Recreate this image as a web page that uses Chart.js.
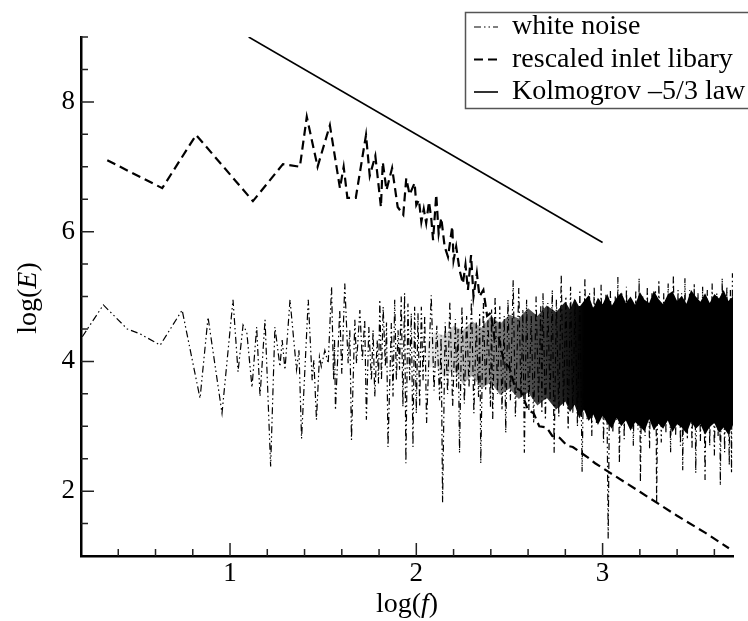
<!DOCTYPE html>
<html>
<head>
<meta charset="utf-8">
<script src="https://cdn.jsdelivr.net/npm/chart.js@4.4.0/dist/chart.umd.min.js"></script>
<style>
  body { margin: 0; background: #fff; }
  canvas { display: block; }
</style>
</head>
<body>
<canvas id="spectrumChart" width="748" height="621"></canvas>
<script>
// ─── DATA (log10 frequency vs log10 energy) ───
const noiseLogF = [
  0.207, 0.320, 0.448, 0.520, 0.625, 0.743, 0.839, 0.882, 0.957, 1.016,
  1.043, 1.070, 1.090, 1.118, 1.143, 1.161, 1.188, 1.218, 1.241, 1.268,
  1.280, 1.295, 1.322, 1.357, 1.370, 1.384, 1.420, 1.441, 1.450, 1.464,
  1.480, 1.490, 1.509, 1.527, 1.545, 1.556, 1.561, 1.566, 1.589, 1.600,
  1.616, 1.634, 1.643, 1.652, 1.670, 1.679, 1.697, 1.710, 1.723, 1.732,
  1.745, 1.759, 1.768, 1.777, 1.790, 1.797, 1.804, 1.813, 1.822, 1.834,
  1.840, 1.848, 1.866, 1.875, 1.884, 1.893, 1.902, 1.910, 1.919, 1.928,
  1.937, 1.944, 1.955, 1.964, 1.973, 1.982, 1.991, 2.000, 2.009, 2.018,
  2.027, 2.036,
  2.045, 2.055, 2.080, 2.095, 2.110, 2.125, 2.133, 2.141, 2.155, 2.168,
  2.180, 2.195, 2.210, 2.216, 2.224, 2.232, 2.245, 2.258, 2.270, 2.283,
  2.296, 2.309, 2.322, 2.334, 2.340, 2.346, 2.360, 2.372, 2.385, 2.398,
  2.404, 2.410, 2.423, 2.436, 2.448, 2.460, 2.472, 2.480, 2.492, 2.505,
  2.520, 2.532, 2.550, 2.562, 2.572, 2.580, 2.592, 2.604, 2.617, 2.630,
  2.643, 2.656, 2.668, 2.674, 2.680, 2.693, 2.706, 2.718, 2.730, 2.740,
  2.752, 2.765, 2.778, 2.790, 2.803, 2.815, 2.828, 2.840, 2.852, 2.865,
  2.878, 2.890, 2.905, 2.917, 2.930, 2.942, 2.955, 2.967, 2.980, 2.985,
  2.992, 3.005, 3.018, 3.030, 3.042, 3.055, 3.068, 3.074, 3.082, 3.090,
  3.103, 3.116, 3.128, 3.140, 3.153, 3.165, 3.178, 3.190, 3.196, 3.203,
  3.215, 3.228, 3.240, 3.252, 3.265, 3.278, 3.284, 3.290, 3.302, 3.315,
  3.328, 3.340, 3.352, 3.365, 3.380, 3.392, 3.405, 3.418, 3.424, 3.430,
  3.442, 3.455, 3.467, 3.480, 3.492, 3.500, 3.512, 3.525, 3.537, 3.550,
  3.562, 3.575, 3.588, 3.600, 3.613, 3.620, 3.626, 3.632, 3.642, 3.655,
  3.667, 3.680, 3.686, 3.692, 3.697
];
const noiseLogE = [
  4.38, 4.87, 4.50, 4.42, 4.25, 4.79, 3.43, 4.68, 3.20, 4.95,
  3.84, 4.56, 4.45, 3.60, 4.53, 3.46, 4.64, 2.38, 4.53, 3.92,
  4.33, 3.87, 4.95, 3.87, 4.17, 2.81, 4.95, 3.71, 4.02, 3.10,
  4.07, 3.92, 4.17, 3.97, 5.15, 3.71, 4.33, 3.25, 4.79, 3.81,
  5.20, 3.97, 4.48, 2.79, 4.64, 3.97, 4.79, 4.02, 4.64, 3.10,
  4.53, 3.71, 4.48, 3.46, 4.33, 3.66, 4.95, 3.71, 4.84, 3.92,
  4.60, 2.68, 4.59, 3.46, 4.95, 3.71, 4.48, 3.87, 5.00, 3.30,
  5.05, 2.43, 4.89, 3.71, 4.74, 2.68, 4.84, 3.20, 4.74, 3.30,
  4.84, 3.71,
  4.70, 3.05, 5.02, 3.55, 4.55, 3.40, 4.40, 1.83, 4.60, 3.50,
  4.92, 3.30, 4.65, 3.60, 4.50, 2.59, 4.85, 3.35, 4.70, 3.60,
  4.95, 3.20, 4.60, 3.45, 4.75, 2.43, 4.90, 3.55, 4.65, 3.30,
  4.80, 3.10, 5.00, 3.50, 4.85, 3.25, 4.70, 2.90, 4.95, 3.40,
  5.25, 3.15, 5.13, 3.45, 4.80, 2.59, 4.95, 3.25, 4.70, 3.05,
  5.00, 3.35, 4.85, 3.20, 5.05, 3.10, 4.90, 3.40, 5.10, 2.59,
  4.95, 3.15, 5.33, 3.30, 5.00, 2.95, 5.15, 3.20, 4.95, 3.00,
  5.10, 2.30, 5.28, 3.10, 5.05, 2.85, 5.15, 3.05, 4.95, 3.20,
  5.18, 2.75, 5.05, 1.27, 5.10, 2.90, 5.00, 3.10, 5.30, 2.43,
  5.05, 2.80, 5.15, 3.00, 4.95, 2.70, 5.10, 2.95, 5.28, 2.14,
  5.00, 2.85, 5.15, 2.65, 5.05, 2.95, 5.10, 1.81, 5.25, 2.75,
  5.05, 2.90, 5.20, 2.60, 5.33, 2.85, 5.10, 2.70, 5.05, 2.32,
  5.28, 2.80, 5.10, 2.65, 5.20, 2.28, 5.05, 2.75, 5.15, 2.17,
  5.10, 2.70, 5.20, 2.55, 5.05, 2.85, 4.90, 2.09, 5.28, 2.60,
  5.15, 2.40, 5.10, 2.28, 5.36
];

const inletLogF = [
  0.341, 0.636, 0.818, 1.123, 1.284, 1.375, 1.412, 1.470, 1.536, 1.590,
  1.610, 1.630, 1.675, 1.730, 1.750, 1.780, 1.810, 1.820, 1.840, 1.870,
  1.900, 1.930, 1.946, 1.964, 1.991, 2.000, 2.014, 2.027, 2.040, 2.053,
  2.068, 2.080, 2.090, 2.107, 2.120, 2.134, 2.152, 2.170, 2.193, 2.200,
  2.214, 2.232, 2.250, 2.264, 2.277, 2.294, 2.307, 2.325, 2.339, 2.360,
  2.380, 2.400, 2.420, 2.440, 2.470, 2.500, 2.530, 2.560, 2.600, 2.630,
  2.660, 2.700, 2.730, 2.770, 2.810, 2.840, 2.880, 2.920, 2.960, 3.030,
  3.200, 3.400, 3.550, 3.678
];
const inletLogE = [
  7.10, 6.67, 7.49, 6.47, 7.04, 7.00, 7.77, 7.00, 7.64, 6.67,
  7.00, 6.52, 6.52, 7.49, 6.86, 7.17, 6.38, 7.07, 6.64, 6.98,
  6.38, 6.26, 6.82, 6.57, 6.75, 6.41, 6.49, 6.15, 6.35, 6.13,
  6.46, 6.21, 5.87, 6.57, 5.97, 6.21, 5.77, 5.61, 6.08, 5.56,
  5.77, 5.41, 5.20, 5.49, 5.10, 5.64, 5.00, 5.36, 5.00, 5.10,
  4.70, 4.75, 4.35, 4.40, 4.00, 3.90, 3.60, 3.55, 3.25, 3.20,
  3.00, 2.98, 2.85, 2.82, 2.70, 2.68, 2.60, 2.52, 2.43, 2.30,
  1.99, 1.62, 1.36, 1.12
];

const kolmoLogF = [1.1, 3.0];
const kolmoLogE = [9.0, 5.833];

// ragged envelope of the saturated part of the white-noise band
const bandLogF = [
  2.05, 2.10, 2.15, 2.20, 2.25, 2.30, 2.35, 2.40, 2.45,
  2.50, 2.55, 2.60, 2.65, 2.70, 2.75, 2.80,
  2.825, 2.850, 2.875, 2.900, 2.925, 2.950, 2.975, 3.000, 3.025, 3.050,
  3.075, 3.100, 3.125, 3.150, 3.175, 3.200, 3.225, 3.250, 3.275, 3.300,
  3.325, 3.350, 3.375, 3.400, 3.425, 3.450, 3.475, 3.500, 3.525, 3.550,
  3.575, 3.600, 3.625, 3.650, 3.675, 3.700
];
const bandTop = [
  4.30, 4.45, 4.40, 4.55, 4.48, 4.62, 4.52, 4.70, 4.58,
  4.72, 4.66, 4.82, 4.70, 4.86, 4.76, 4.92,
  4.80, 4.97, 4.84, 4.93, 5.02, 4.82, 4.98, 4.88, 5.04, 4.86,
  4.98, 5.06, 4.90, 5.00, 4.87, 5.07, 4.95, 4.90, 5.09, 4.96,
  4.88, 5.03, 5.08, 4.93, 5.01, 4.89, 5.10, 5.00, 4.92, 5.05,
  4.90, 5.04, 4.97, 5.10, 4.93, 5.00
];
const bandBottom = [
  3.85, 3.95, 3.75, 3.88, 3.65, 3.78, 3.58, 3.68, 3.48,
  3.58, 3.42, 3.52, 3.32, 3.44, 3.26, 3.38,
  3.22, 3.33, 3.12, 3.26, 3.08, 3.18, 3.02, 3.16, 3.05, 2.96,
  3.13, 3.00, 3.09, 2.93, 3.06, 3.00, 2.92, 3.11, 2.94, 3.04,
  2.96, 3.09, 2.91, 3.03, 2.98, 2.89, 3.07, 2.96, 3.03, 2.87,
  2.99, 3.05, 2.90, 2.98, 2.87, 3.02
];

const xTickValues = [1, 2, 3];
const yTickValues = [2, 4, 6, 8];
const xMinorTicks = [0.4, 0.6, 0.8, 1.2, 1.4, 1.6, 1.8, 2.2, 2.4, 2.6, 2.8, 3.2, 3.4, 3.6];
const yMinorTicks = [1.5, 2.5, 3, 3.5, 4.5, 5, 5.5, 6.5, 7, 7.5, 8.5, 9];

const legendLabels = ['white noise', 'rescaled inlet libary', 'Kolmogrov \u20135/3 law'];

// ─── STYLE ───
const FONT = '"Liberation Serif", "Times New Roman", serif';
const noiseDash = [7, 3, 1.5, 3, 1.5, 3];
const inletDash = [9, 5];

function pairs(xs, ys) {
    return xs.map((v, i) => ({ x: v, y: ys[i] }));
}

// ─── TICKS, TITLES AND LEGEND ───
function drawMixed(ctx, parts, cx, y) {
    const fonts = parts.map(p => (p[1] ? 'italic ' : '') + '28px ' + FONT);
    const widths = parts.map((p, i) => { ctx.font = fonts[i]; return ctx.measureText(p[0]).width; });
    let x = cx - widths.reduce((a, b) => a + b, 0) / 2;
    parts.forEach((p, i) => {
        ctx.font = fonts[i];
        ctx.fillText(p[0], x, y);
        x += widths[i];
    });
}

const decorPlugin = {
    id: 'decor',
    afterDraw(chart) {
        const { ctx, chartArea: a, scales: { x, y } } = chart;
        ctx.save();

        // inward ticks
        ctx.strokeStyle = '#222';
        ctx.lineWidth = 1.5;
        ctx.beginPath();
        xTickValues.forEach(v => { const p = x.getPixelForValue(v); ctx.moveTo(p, a.bottom); ctx.lineTo(p, a.bottom - 13); });
        xMinorTicks.forEach(v => { const p = x.getPixelForValue(v); ctx.moveTo(p, a.bottom); ctx.lineTo(p, a.bottom - 7); });
        yTickValues.forEach(v => { const p = y.getPixelForValue(v); ctx.moveTo(a.left, p); ctx.lineTo(a.left + 13, p); });
        yMinorTicks.forEach(v => { const p = y.getPixelForValue(v); ctx.moveTo(a.left, p); ctx.lineTo(a.left + 7, p); });
        ctx.stroke();

        // axis titles with italic variables
        ctx.fillStyle = '#000';
        ctx.textAlign = 'left';
        ctx.textBaseline = 'alphabetic';
        drawMixed(ctx, [['log(', false], ['f', true], [')', false]], (a.left + a.right) / 2, 612);
        ctx.save();
        ctx.translate(36, 298);
        ctx.rotate(-Math.PI / 2);
        drawMixed(ctx, [['log(', false], ['E', true], [')', false]], 0, 0);
        ctx.restore();

        // legend box
        ctx.fillStyle = '#fff';
        ctx.fillRect(465, 12, 290, 96);
        ctx.strokeStyle = '#555';
        ctx.lineWidth = 1.5;
        ctx.strokeRect(465.5, 12.5, 300, 96);

        const rows = [34, 66.5, 99];
        const styles = [
            { dash: noiseDash, width: 1.2 },
            { dash: inletDash, width: 2.2 },
            { dash: [], width: 1.6 }
        ];
        ctx.strokeStyle = '#000';
        rows.forEach((base, i) => {
            ctx.setLineDash(styles[i].dash);
            ctx.lineWidth = styles[i].width;
            ctx.beginPath();
            ctx.moveTo(474, base - 7);
            ctx.lineTo(498, base - 7);
            ctx.stroke();
        });
        ctx.setLineDash([]);
        ctx.fillStyle = '#000';
        ctx.font = '28px ' + FONT;
        rows.forEach((base, i) => ctx.fillText(legendLabels[i], 512, base));

        ctx.restore();
    }
};

// ─── CREATE THE CHART ───
Chart.defaults.font.family = FONT;
Chart.defaults.color = '#000';

const ctx = document.getElementById('spectrumChart').getContext('2d');
const spectrumChart = new Chart(ctx, {
    type: 'line',
    data: {
        datasets: [
            {
                label: legendLabels[2],
                data: pairs(kolmoLogF, kolmoLogE),
                borderColor: '#000',
                borderWidth: 1.6,
                pointRadius: 0,
                fill: false
            },
            {
                label: legendLabels[0],
                data: pairs(noiseLogF, noiseLogE),
                borderColor: '#000',
                borderWidth: 1.2,
                borderDash: noiseDash,
                pointRadius: 0,
                fill: false
            },
            {
                label: legendLabels[1],
                data: pairs(inletLogF, inletLogE),
                borderColor: '#000',
                borderWidth: 2.2,
                borderDash: inletDash,
                pointRadius: 0,
                fill: false
            },
            {
                label: 'band top',
                data: pairs(bandLogF, bandTop),
                borderWidth: 0,
                pointRadius: 0,
                fill: '+1',
                backgroundColor: function(context) {
                    const chart = context.chart;
                    if (!chart.chartArea) return 'rgba(0,0,0,0.5)';
                    const sx = chart.scales.x;
                    const g = chart.ctx.createLinearGradient(sx.getPixelForValue(2.05), 0, sx.getPixelForValue(2.9), 0);
                    g.addColorStop(0, 'rgba(0,0,0,0.05)');
                    g.addColorStop(0.45, 'rgba(0,0,0,0.5)');
                    g.addColorStop(1, 'rgba(0,0,0,1)');
                    return g;
                }
            },
            {
                label: 'band bottom',
                data: pairs(bandLogF, bandBottom),
                borderWidth: 0,
                pointRadius: 0,
                fill: false
            }
        ]
    },
    options: {
        responsive: false,
        animation: false,
        layout: { padding: { top: 37, right: 15, left: 0, bottom: 0 } },
        scales: {
            x: {
                type: 'linear',
                min: 0.2,
                max: 3.7,
                afterBuildTicks: s => { s.ticks = xTickValues.map(v => ({ value: v })); },
                afterFit: s => { s.height = 65; },
                grid: { display: false, drawTicks: false },
                border: { display: true, color: '#000', width: 2.5 },
                ticks: { color: '#000', font: { family: FONT, size: 27 }, padding: 2, maxRotation: 0, autoSkip: false }
            },
            y: {
                type: 'linear',
                min: 1,
                max: 9,
                afterBuildTicks: s => { s.ticks = yTickValues.map(v => ({ value: v })); },
                afterFit: s => { s.width = 81; },
                grid: { display: false, drawTicks: false },
                border: { display: true, color: '#000', width: 2.5 },
                ticks: { color: '#000', font: { family: FONT, size: 27 }, padding: 6, autoSkip: false }
            }
        },
        plugins: {
            legend: { display: false },
            tooltip: { enabled: false }
        }
    },
    plugins: [decorPlugin]
});
</script>
</body>
</html>
